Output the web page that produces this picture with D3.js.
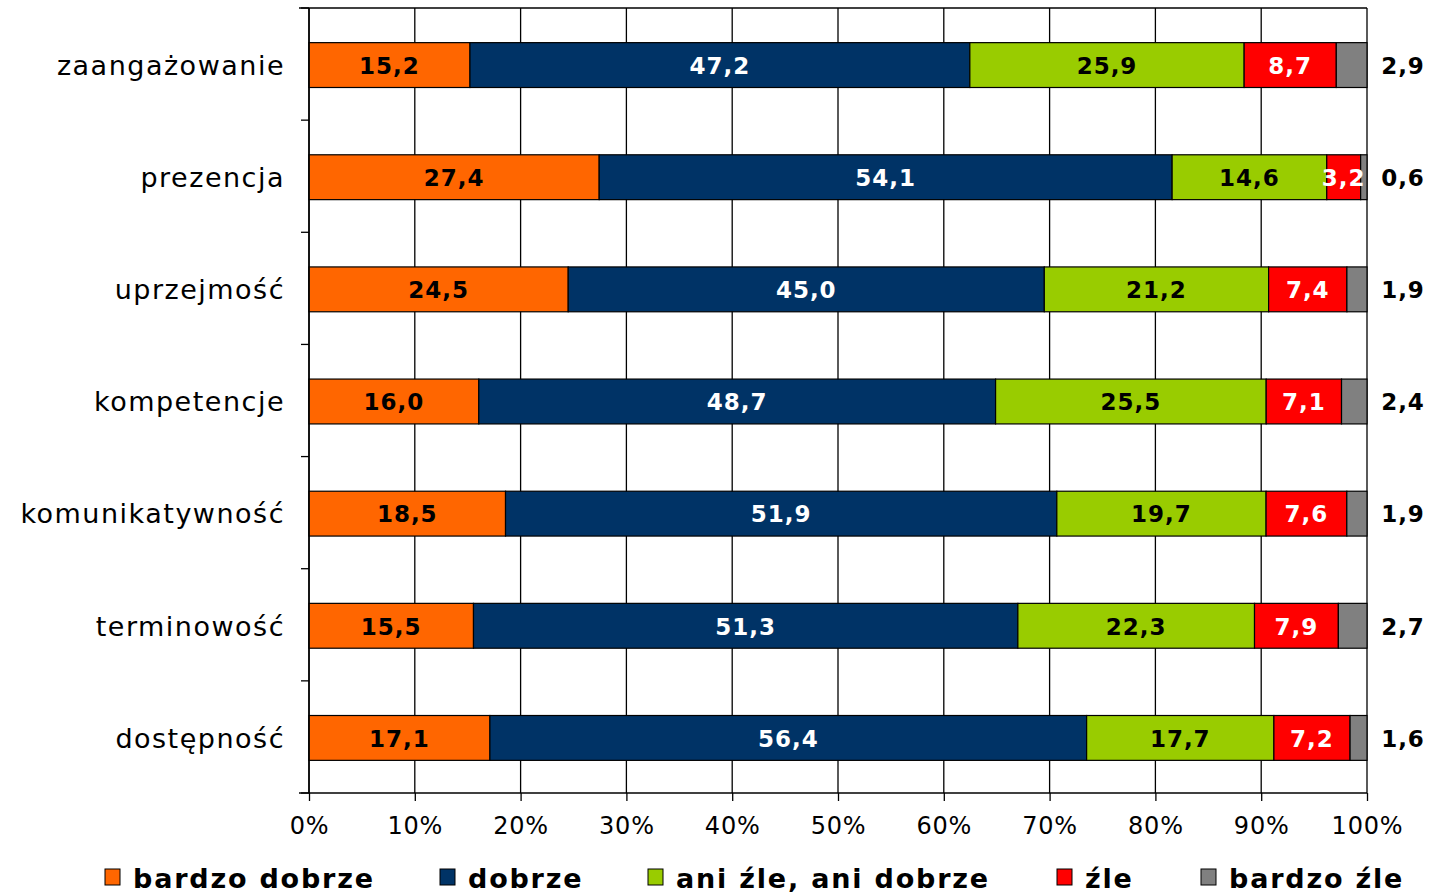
<!DOCTYPE html>
<html><head><meta charset="utf-8">
<script src="https://cdn.jsdelivr.net/npm/d3@7"></script>
<style>body{margin:0;background:#fff;} svg{display:block;font-family:"DejaVu Sans",Verdana,sans-serif;}</style>
</head><body>
<svg id="c" width="1435" height="893"></svg>
<script>
const categories = ["zaangażowanie","prezencja","uprzejmość","kompetencje","komunikatywność","terminowość","dostępność"];
const seriesNames = ["bardzo dobrze","dobrze","ani źle, ani dobrze","źle","bardzo źle"];
const bardzoDobrze = [15.2,27.4,24.5,16.0,18.5,15.5,17.1];
const dobrze       = [47.2,54.1,45.0,48.7,51.9,51.3,56.4];
const aniZleAniDobrze = [25.9,14.6,21.2,25.5,19.7,22.3,17.7];
const zle          = [8.7,3.2,7.4,7.1,7.6,7.9,7.2];
const bardzoZle    = [2.9,0.6,1.9,2.4,1.9,2.7,1.6];
const xTicks = [0,10,20,30,40,50,60,70,80,90,100];
const colors = ["#FF6600","#003366","#99CC00","#FF0000","#808080"];
const labelColors = ["#000","#fff","#000","#fff","#000"];

const series = [bardzoDobrze,dobrze,aniZleAniDobrze,zle,bardzoZle];
const rows = categories.map((c,i)=>{
  const vals = series.map(s=>s[i]);
  const tot = d3.sum(vals);
  let acc=0;
  return {cat:c, segs: vals.map((v,k)=>{const x0=acc/tot*100; acc+=v; return {k,v,x0,x1:acc/tot*100};})};
});

const svg = d3.select("#c");
const L=309, R=1367, T=8, B=793;
const x = d3.scaleLinear().domain([0,100]).range([L,R]);
const y = d3.scaleBand().domain(categories).range([T+1,B+1]).paddingInner(0.6).paddingOuter(0.3);
const fmt = v => d3.format(".1f")(v).replace(".",",");

// gridlines
svg.append("g").selectAll("line").data(xTicks).join("line")
  .attr("x1",d=>x(d)).attr("x2",d=>x(d)).attr("y1",T).attr("y2",B)
  .attr("stroke","#000").attr("stroke-width",1.3);
svg.append("line").attr("x1",L-10).attr("x2",R).attr("y1",T).attr("y2",T).attr("stroke","#000").attr("stroke-width",1.3);

// bars
const g = svg.append("g");
rows.forEach(r=>{
  const yy = y(r.cat), h=y.bandwidth();
  g.selectAll(null).data(r.segs).join("rect")
    .attr("x",d=>x(d.x0)).attr("width",d=>x(d.x1)-x(d.x0))
    .attr("y",yy).attr("height",h)
    .attr("fill",d=>colors[d.k]).attr("stroke","#000").attr("stroke-width",1.2);
  g.selectAll(null).data(r.segs).join("text")
    .attr("x",d=> d.k===4 ? R+36 : (x(d.x0)+x(d.x1))/2)
    .attr("y",yy+h/2).attr("dy","0.38em")
    .attr("text-anchor","middle").attr("font-weight","bold").attr("font-size",23)
    .attr("letter-spacing","1px")
    .attr("fill",d=> d.k===4 ? "#000" : labelColors[d.k])
    .text(d=>fmt(d.v));
});

// y axis
const yBoundaries = d3.range(categories.length+1).map(i=>T+(B-T)*i/categories.length);
svg.append("line").attr("x1",L).attr("x2",L).attr("y1",T).attr("y2",B).attr("stroke","#000").attr("stroke-width",1.5);
svg.append("g").selectAll("line").data(yBoundaries).join("line")
  .attr("x1",L-8).attr("x2",L).attr("y1",d=>d).attr("y2",d=>d).attr("stroke","#000").attr("stroke-width",1.3);
svg.append("g").selectAll("text").data(categories).join("text")
  .attr("x",285).attr("y",d=>y(d)+y.bandwidth()/2).attr("dy","0.36em")
  .attr("text-anchor","end").attr("font-size",27).attr("letter-spacing","1.5px").attr("fill","#000").text(d=>d);

// x axis
const xa = svg.append("g").attr("transform",`translate(0,${B})`)
  .call(d3.axisBottom(x).tickValues(xTicks).tickFormat(d=>d+"%").tickSize(8).tickPadding(16));
xa.select(".domain").attr("d",`M${L-10},0H${R}`).attr("stroke","#000").attr("stroke-width",1.5);
xa.selectAll(".tick line").attr("stroke","#000").attr("stroke-width",1.3);
xa.selectAll("text").attr("font-size",24).attr("letter-spacing","0.8px").attr("fill","#000").attr("font-family","DejaVu Sans");

// legend
const legX = [105,440,648,1057,1201];
const lg = svg.append("g");
seriesNames.forEach((n,i)=>{
  lg.append("rect").attr("x",legX[i]).attr("y",869).attr("width",15).attr("height",16)
    .attr("fill",colors[i]).attr("stroke","#000").attr("stroke-width",1);
  lg.append("text").attr("x",legX[i]+28).attr("y",888).attr("font-size",27).attr("letter-spacing","1.8px").attr("font-weight","bold").attr("fill","#000").text(n);
});
</script>
</body></html>
